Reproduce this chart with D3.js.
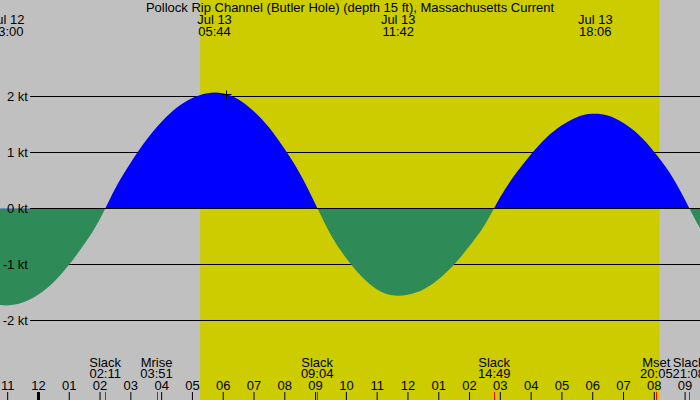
<!DOCTYPE html>
<html>
<head>
<meta charset="utf-8">
<script src="https://cdn.jsdelivr.net/npm/d3@7"></script>
<style>
  body { margin: 0; }
  svg { display: block; font-family: 'Liberation Sans', Arial, sans-serif; font-size: 13px; }
</style>
</head>
<body>
<svg width="700" height="400"></svg>
<script>
const title = 'Pollock Rip Channel (Butler Hole) (depth 15 ft), Massachusetts Current';

// current speed (kt) every 30 minutes, Jul 12 22:00 .. Jul 13 22:00
// flood > 0, ebb < 0
const speedStart = 'Jul 12 22:00';
const speedValues = [
  -1.56, -1.69, -1.73, -1.68, -1.54, -1.32, -1.01, -0.64, -0.20,
  0.35, 0.81, 1.21, 1.54, 1.80, 1.97, 2.06, 2.06, 1.95, 1.74, 1.45, 1.07, 0.63, 0.09,
  -0.46, -0.88, -1.21, -1.44, -1.55, -1.54, -1.45, -1.27, -1.01, -0.68, -0.30,
  0.19, 0.61, 0.96, 1.26, 1.48, 1.63, 1.69, 1.66, 1.53, 1.32, 1.02, 0.65, 0.17,
  -0.35, -0.75
];

const maxTimes = ['Jul 12 23:00', 'Jul 13 05:44', 'Jul 13 11:42', 'Jul 13 18:06'];
const eventTimes = ['Jul 13 02:11', 'Jul 13 03:51', 'Jul 13 09:04', 'Jul 13 14:49', 'Jul 13 20:05', 'Jul 13 21:08'];
const eventNames = ['Slack', 'Mrise', 'Slack', 'Slack', 'Mset', 'Slack'];
const sunTimes = ['Jul 13 05:16', 'Jul 13 20:11'];
const speedTicks = [-2, -1, 0, 1, 2];
const markTime = 'Jul 13 06:06';
const markValue = 2.04;

const parse = d3.timeParse('%b %d %H:%M');
const width = 700;
const height = 400;

const svg = d3.select('svg');

const x = d3.scaleTime()
  .domain([parse('Jul 12 22:46'), parse('Jul 13 21:30')])
  .range([0, width]);

const y = d3.scaleLinear()
  .domain([-2, 2])
  .range([320, 96]);

const data = speedValues.map((v, i) => ({
  date: d3.timeMinute.offset(parse(speedStart), i * 30),
  value: v
}));

// background + daylight
svg.append('rect')
  .attr('width', width)
  .attr('height', height)
  .attr('fill', '#c0c0c0');

const sunrise = x(parse(sunTimes[0]));
const sunset = x(parse(sunTimes[1]));
svg.append('rect')
  .attr('x', sunrise)
  .attr('width', sunset - sunrise)
  .attr('height', height)
  .attr('fill', '#cccc00');

// grid lines
const grid = svg.append('g')
  .attr('transform', 'translate(30,0)')
  .call(d3.axisLeft(y)
    .tickValues(speedTicks)
    .tickSize(-(width - 30))
    .tickFormat(''));
grid.select('.domain').remove();

// flood / ebb areas
const defs = svg.append('defs');
defs.append('clipPath').attr('id', 'above')
  .append('rect').attr('width', width).attr('height', y(0) + 0.5);
defs.append('clipPath').attr('id', 'below')
  .append('rect').attr('y', y(0) + 0.5).attr('width', width).attr('height', height);

const area = d3.area()
  .x((d) => x(d.date))
  .y0(y(0) + 0.5)
  .y1((d) => y(d.value) + 0.5)
  .curve(d3.curveNatural);

svg.append('path')
  .datum(data)
  .attr('d', area)
  .attr('fill', '#0000ff')
  .attr('clip-path', 'url(#above)');

svg.append('path')
  .datum(data)
  .attr('d', area)
  .attr('fill', '#2e8b57')
  .attr('clip-path', 'url(#below)');

svg.append('line')
  .attr('x1', 30)
  .attr('x2', width)
  .attr('y1', y(0) + 0.5)
  .attr('y2', y(0) + 0.5)
  .attr('stroke', 'black');

// kt labels on top of the areas
const ktLabels = svg.append('g')
  .attr('transform', 'translate(30,0)')
  .call(d3.axisLeft(y)
    .tickValues(speedTicks)
    .tickSize(0)
    .tickPadding(2)
    .tickFormat((d) => d + ' kt'));
ktLabels.select('.domain').remove();
ktLabels.attr('font-size', 13).attr('font-family', null);

// little cross marker
const mx = Math.round(x(parse(markTime))) + 0.5;
const my = Math.round(y(markValue)) + 0.5;
svg.append('path')
  .attr('d', `M${mx - 4},${my}H${mx + 5}M${mx},${my - 4}V${my + 5}`)
  .attr('stroke', 'black');

// title + max current labels
svg.append('text')
  .attr('x', width / 2)
  .attr('y', 12)
  .attr('text-anchor', 'middle')
  .text(title);

const tops = svg.selectAll('.maxlabel')
  .data(maxTimes.map(parse))
  .enter()
  .append('g')
  .attr('class', 'maxlabel')
  .attr('text-anchor', 'middle');
tops.append('text')
  .attr('x', (d) => x(d))
  .attr('y', 24)
  .text(d3.timeFormat('%b %d'));
tops.append('text')
  .attr('x', (d) => x(d))
  .attr('y', 36)
  .text(d3.timeFormat('%H:%M'));

// hour axis along the bottom
const hours = svg.append('g')
  .attr('transform', `translate(0,${height})`)
  .call(d3.axisTop(x)
    .ticks(d3.timeHour.every(1))
    .tickSize(8)
    .tickPadding(2)
    .tickFormat(d3.timeFormat('%I')));
hours.select('.domain').remove();
hours.attr('font-size', 13).attr('font-family', null);
hours.selectAll('.tick line')
  .filter((d) => d.getHours() === 0)
  .attr('stroke-width', 3);

// slack / moon events
const events = svg.selectAll('.event')
  .data(eventTimes.map((t, i) => ({ date: parse(t), name: eventNames[i] })))
  .enter()
  .append('g')
  .attr('class', 'event')
  .attr('text-anchor', 'middle');
events.append('line')
  .attr('x1', (d) => Math.round(x(d.date)) + 0.5)
  .attr('x2', (d) => Math.round(x(d.date)) + 0.5)
  .attr('y1', height - 8)
  .attr('y2', height)
  .attr('stroke', '#ff0000');
events.append('text')
  .attr('x', (d) => x(d.date))
  .attr('y', 367)
  .text((d) => d.name);
events.append('text')
  .attr('x', (d) => x(d.date))
  .attr('y', 378)
  .text((d) => d3.timeFormat('%H:%M')(d.date));
</script>
</body>
</html>
